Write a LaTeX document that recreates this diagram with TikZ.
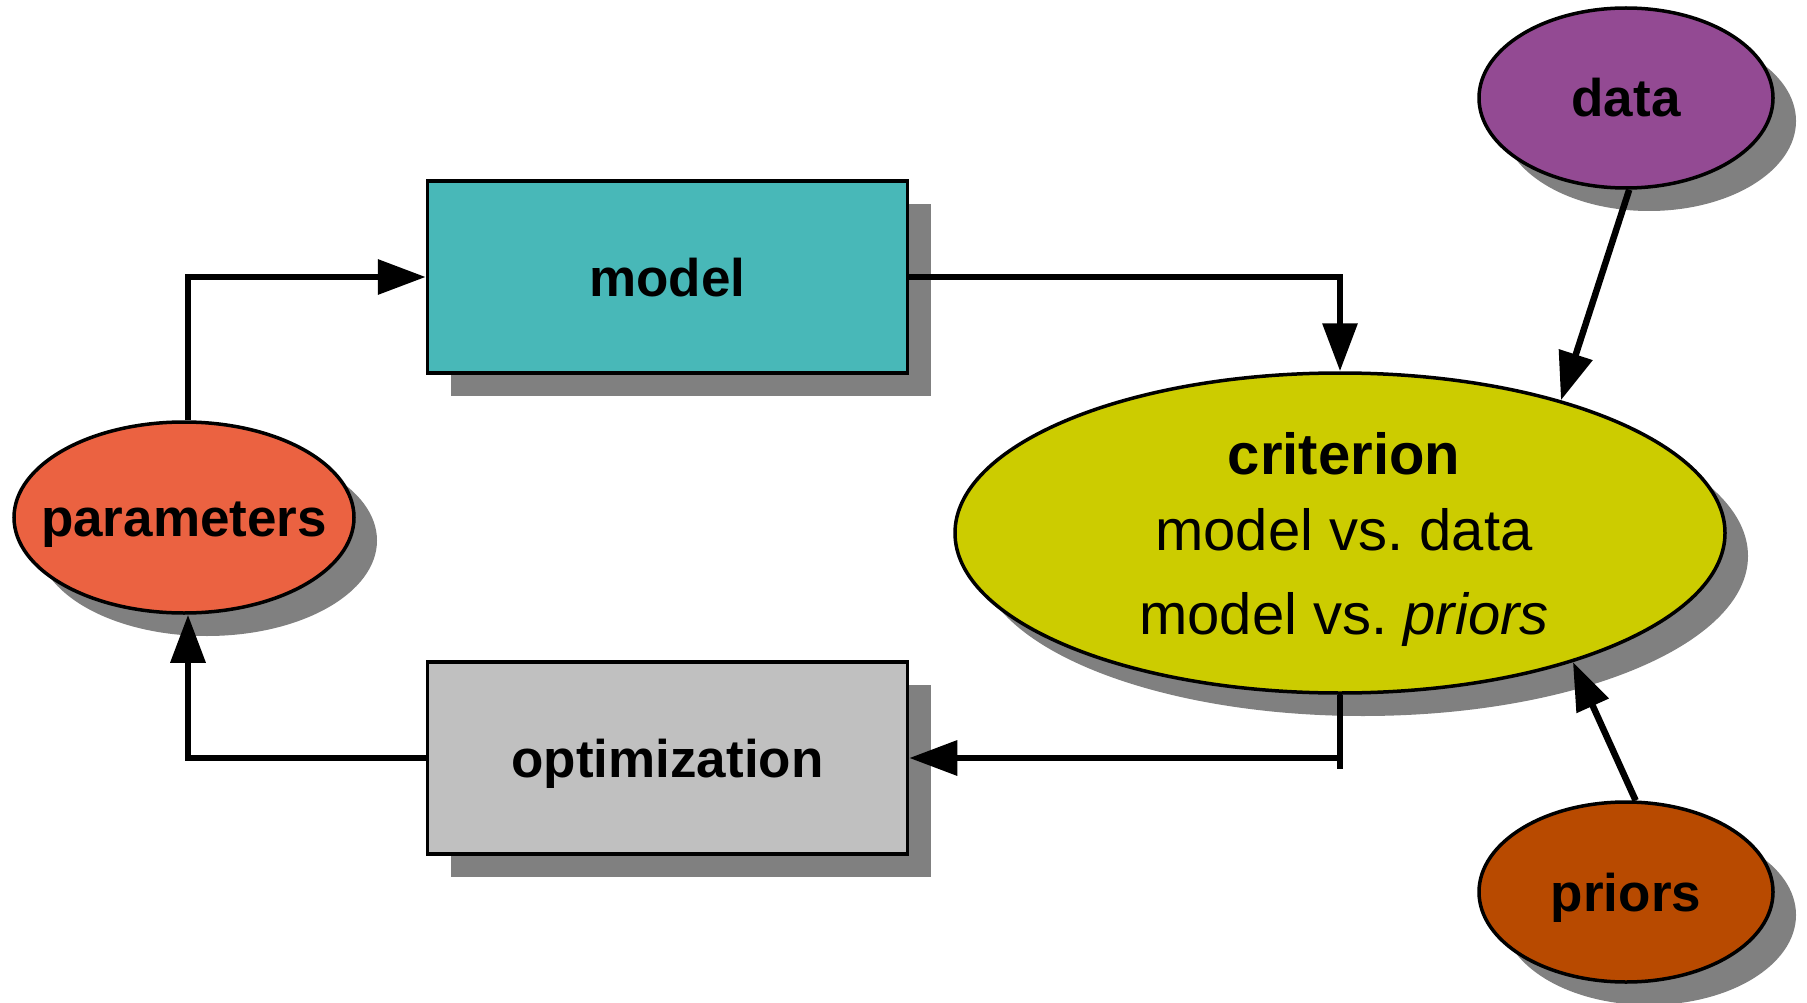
\documentclass[tikz,border=0pt]{standalone}
\usepackage{fontspec}
\setmainfont{Liberation Sans}
\usetikzlibrary{arrows.meta,shapes.geometric,shadows}

\definecolor{modelfill}{RGB}{72,184,184}
\definecolor{optfill}{RGB}{192,192,192}
\definecolor{parfill}{RGB}{235,98,65}
\definecolor{datafill}{RGB}{147,74,147}
\definecolor{critfill}{RGB}{204,204,0}
\definecolor{priorfill}{RGB}{184,74,0}
\definecolor{shadowgray}{RGB}{128,128,128}

\begin{document}
\begin{tikzpicture}[x=1pt,y=-1pt,
  dropgray/.style={drop shadow={shadow xshift=23pt,shadow yshift=-23pt,fill=shadowgray,opacity=1}},
  labelfont/.style={font=\fontsize{53}{60}\selectfont\bfseries,text height=38pt,text depth=0pt},
  block/.style={rectangle,draw=black,line width=3.5pt,inner sep=0pt,
    minimum width=480pt,minimum height=192pt,dropgray,labelfont},
  blob/.style={ellipse,draw=black,line width=3.5pt,inner sep=0pt,dropgray,labelfont},
  link/.style={line width=6.5pt,-{Triangle[length=48pt,width=34pt]}},
  plain/.style={line width=6.5pt}
]
% page frame
\useasboundingbox[fill=white] (0,0) rectangle (1807,1003);

% blocks
\node[block,fill=modelfill] (model) at (667.5,277) {model};
\node[block,fill=optfill] (opt) at (667.5,758) {optimization};

% ellipses
\node[blob,fill=parfill,minimum width=340pt,minimum height=191pt] (par) at (184,517.5)
  {\makebox[0pt]{parameters}};
\node[blob,fill=datafill,minimum width=294pt,minimum height=180pt] (data) at (1626,98)
  {\makebox[0pt]{data}};
\node[blob,fill=priorfill,minimum width=294pt,minimum height=180pt] (priors) at (1626,892)
  {\makebox[0pt]{priors}};
\node[blob,fill=critfill,minimum width=770pt,minimum height=320pt,
      text height=0pt,text depth=0pt] (crit) at (1340,533)
  {\makebox[0pt]{\hspace*{8pt}\raisebox{58.5pt}{\smash{\fontsize{58}{78}\selectfont
    \begin{tabular}[t]{@{}c@{}}
      \bfseries criterion\\[-2pt]
      \mdseries model vs.\ data\\[6pt]
      \mdseries model vs.\ \itshape priors
    \end{tabular}}}}};

% loop connectors
\draw[link] ([xshift=4pt]par.north) |- (model.west);
\draw[link] (model.east) -| (crit.north);
\coordinate (turn) at (crit.south |- opt.east);
\draw[plain] (crit.south) -- ([yshift=-11pt]turn);
\draw[link] (turn) -- (opt.east);
\draw[link] (opt.west) -| ([xshift=4pt]par.south);

% inputs to the criterion
\draw[link] (data.-88) -- (crit.31);
\draw[link] (priors.84) -- (crit.-29);
\end{tikzpicture}
\end{document}
